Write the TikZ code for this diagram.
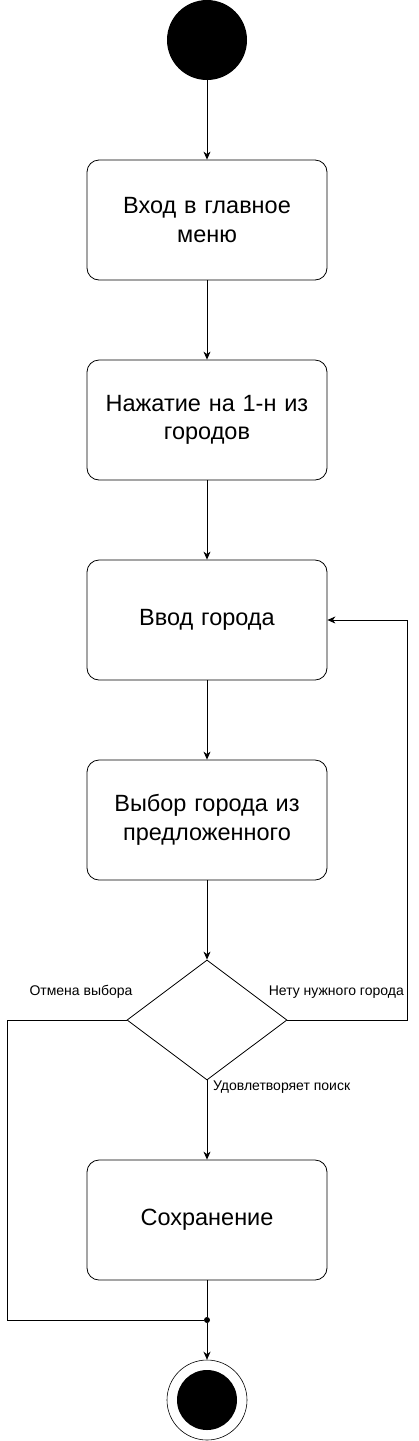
\documentclass[tikz,border=0pt]{standalone}
\usepackage{fontspec}
\setmainfont{Liberation Sans}
\usetikzlibrary{shapes.geometric,arrows.meta}
\begin{document}
\begin{tikzpicture}[x=1pt,y=-1pt,
  box/.style={draw, rounded corners=12pt, minimum width=240pt, minimum height=120pt, align=center, font=\fontsize{23.5}{28.5}\selectfont, text width=230pt, inner sep=0pt, line width=0.8pt},
  conn/.style={line width=0.8pt, -{Stealth[length=8pt,width=7pt,inset=2.5pt]}},
  plain/.style={line width=0.8pt},
  lbl/.style={font=\fontsize{14}{16}\selectfont, inner sep=0pt}]
\useasboundingbox (0,0) rectangle (419,1441);
\node[circle, fill=black, minimum size=80pt, inner sep=0pt] (start) at (207,40) {};
\node[box] (b1) at (207,220) {Вход в главное\\меню};
\node[box] (b2) at (207,420) {Нажатие на 1-н из\\городов};
\node[box] (b3) at (207,620) {Ввод города};
\node[box] (b4) at (207,820) {Выбор города из\\предложенного};
\node[diamond, draw, aspect=1.3333, minimum width=160pt, minimum height=120pt, inner sep=0pt, line width=0.8pt] (d) at (207,1020) {};
\node[box] (b5) at (207,1220) {Сохранение};
\node[circle, fill=black, minimum size=6pt, inner sep=0pt] (j) at (207,1320) {};
\node[circle, draw, minimum size=80pt, inner sep=0pt, line width=0.6pt] (end) at (207,1400) {};
\node[circle, fill=black, minimum size=60pt, inner sep=0pt] (endin) at (207,1400) {};
\coordinate (r1) at (407,1020);
\coordinate (r2) at (407,620);
\coordinate (l1) at (7,1020);
\coordinate (l2) at (7,1320);
\draw[conn] (start) -- (b1);
\draw[conn] (b1) -- (b2);
\draw[conn] (b2) -- (b3);
\draw[conn] (b3) -- (b4);
\draw[conn] (b4) -- (d.north);
\draw[conn] (d.south) -- (b5);
\draw[plain] (b5) -- (j);
\draw[conn] (j) -- (end);
\draw[conn] (d.east) -- (r1) -- (r2) -- (b3.east);
\draw[plain] (d.west) -- (l1) -- (l2) -- (j);
\node[lbl] (t1) at (81,992) {Отмена выбора};
\node[lbl, anchor=east] (t2) at (404,992) {Нету нужного города};
\node[lbl, anchor=west] (t3) at (213,1087) {Удовлетворяет поиск};
\end{tikzpicture}
\end{document}
